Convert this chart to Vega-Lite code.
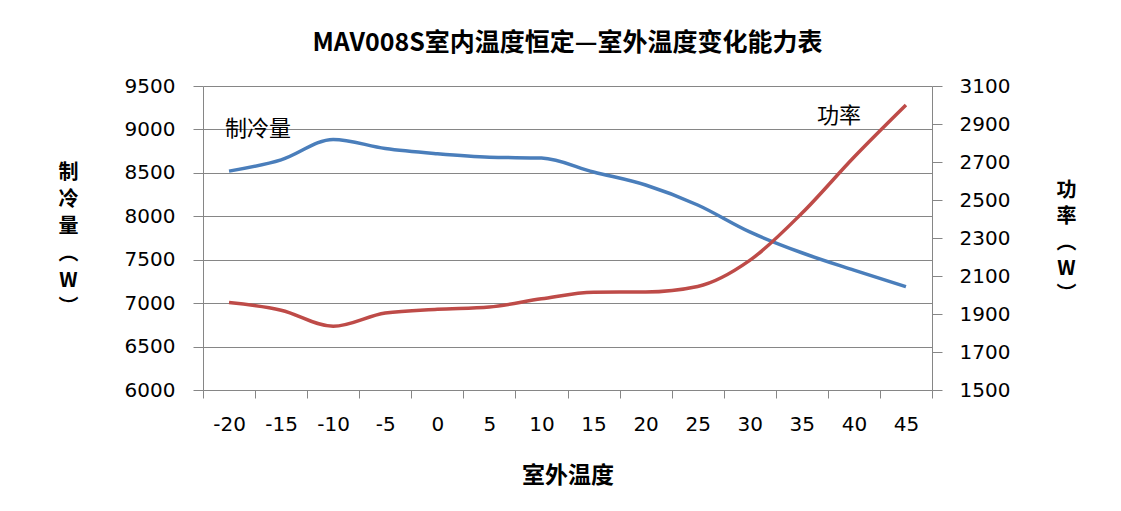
{
  "$schema": "https://vega.github.io/schema/vega-lite/v6.json",
  "autosize": {"type": "none"},
  "width": 729,
  "height": 304,
  "padding": {"left": 203, "top": 86, "right": 189, "bottom": 121},
  "background": "white",
  "config": {
    "view": {"stroke": null},
    "font": "DejaVu Sans",
    "axisY": {"labelOverlap": false}
  },
  "title": {
    "text": "MAV008S室内温度恒定—室外温度变化能力表",
    "font": "Noto Sans CJK SC",
    "fontSize": 25,
    "fontWeight": "bold",
    "color": "black",
    "anchor": "middle",
    "frame": "group",
    "offset": 20
  },
  "datasets": {
    "d": [
      {"t": "-20", "cap": 8520, "pow": 1960},
      {"t": "-15", "cap": 8650, "pow": 1920},
      {"t": "-10", "cap": 8885, "pow": 1835},
      {"t": "-5", "cap": 8780, "pow": 1905},
      {"t": "0", "cap": 8720, "pow": 1925},
      {"t": "5", "cap": 8680, "pow": 1937},
      {"t": "10", "cap": 8670, "pow": 1980},
      {"t": "15", "cap": 8510, "pow": 2015},
      {"t": "20", "cap": 8360, "pow": 2016},
      {"t": "25", "cap": 8130, "pow": 2045},
      {"t": "30", "cap": 7820, "pow": 2182},
      {"t": "35", "cap": 7580, "pow": 2430},
      {"t": "40", "cap": 7380, "pow": 2725},
      {"t": "45", "cap": 7190, "pow": 3000}
    ]
  },
  "encoding": {
    "x": {
      "field": "t",
      "type": "ordinal",
      "bandPosition": 0.5,
      "scale": {
        "type": "band",
        "domain": ["-20", "-15", "-10", "-5", "0", "5", "10", "15", "20", "25", "30", "35", "40", "45"],
        "paddingInner": 0,
        "paddingOuter": 0
      },
      "axis": {
        "title": "室外温度",
        "titleFont": "Noto Sans CJK SC",
        "titleFontSize": 23,
        "titleFontWeight": "bold",
        "titleColor": "black",
        "titleBaseline": "middle",
        "titleY": 85,
        "labelAngle": 0,
        "labelFontSize": 20,
        "labelColor": "black",
        "labelPadding": 16,
        "labelOverlap": false,
        "tickBand": "extent",
        "tickSize": 8,
        "tickColor": "#868686",
        "domainColor": "#868686",
        "grid": false
      }
    }
  },
  "layer": [
    {
      "data": {"name": "d"},
      "encoding": {
        "y": {
          "field": "cap",
          "type": "quantitative",
          "scale": {"domain": [6000, 9500], "nice": false, "zero": false},
          "axis": {
            "orient": "left",
            "values": [6000, 6500, 7000, 7500, 8000, 8500, 9000, 9500],
            "format": "d",
            "labelFontSize": 20,
            "labelColor": "black",
            "labelPadding": 18,
            "labelOverlap": false,
            "tickSize": 10,
            "tickColor": "#868686",
            "domainColor": "#868686",
            "grid": true,
            "gridColor": "#868686",
            "gridOpacity": 1,
            "title": ["制", "冷", "量", "︵", "W", "︶"],
            "titleFont": "Noto Sans CJK SC",
            "titleFontSize": 20,
            "titleFontWeight": "bold",
            "titleColor": "black",
            "titleAngle": 0,
            "titleAlign": "center",
            "titleBaseline": "top",
            "titleLineHeight": 27,
            "titleX": -135,
            "titleY": 76
          }
        }
      },
      "layer": [
        {
          "mark": {"type": "line", "interpolate": "monotone", "color": "#4A7EBB", "strokeWidth": 3.5}
        },
        {
          "transform": [{"filter": "datum.t == '-20'"}],
          "mark": {"type": "text", "text": "制冷量", "align": "left", "baseline": "middle", "dx": -4, "dy": -42, "font": "Noto Sans CJK SC", "fontSize": 22, "color": "black"}
        }
      ]
    },
    {
      "data": {"name": "d"},
      "encoding": {
        "y": {
          "field": "pow",
          "type": "quantitative",
          "scale": {"domain": [1500, 3100], "nice": false, "zero": false},
          "axis": {
            "orient": "right",
            "values": [1500, 1700, 1900, 2100, 2300, 2500, 2700, 2900, 3100],
            "format": "d",
            "labelFontSize": 20,
            "labelColor": "black",
            "labelPadding": 17,
            "labelOverlap": false,
            "tickSize": 10,
            "tickColor": "#868686",
            "domainColor": "#868686",
            "grid": false,
            "title": ["功", "率", "︵", "W", "︶"],
            "titleFont": "Noto Sans CJK SC",
            "titleFontSize": 20,
            "titleFontWeight": "bold",
            "titleColor": "black",
            "titleAngle": 0,
            "titleAlign": "center",
            "titleBaseline": "top",
            "titleLineHeight": 26,
            "titleX": 134,
            "titleY": 94
          }
        }
      },
      "layer": [
        {
          "mark": {"type": "line", "interpolate": "monotone", "color": "#BE4B48", "strokeWidth": 3.5}
        },
        {
          "transform": [{"filter": "datum.t == '40'"}],
          "mark": {"type": "text", "text": "功率", "align": "center", "baseline": "middle", "dx": -15, "dy": -41, "font": "Noto Sans CJK SC", "fontSize": 22, "color": "black"}
        }
      ]
    }
  ],
  "resolve": {"scale": {"y": "independent"}}
}
